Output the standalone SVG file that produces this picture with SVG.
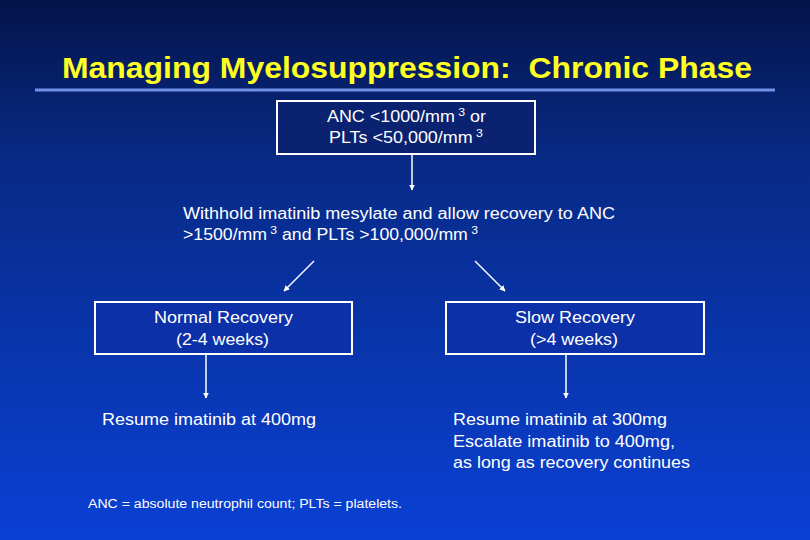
<svg xmlns="http://www.w3.org/2000/svg" width="810" height="540" viewBox="0 0 810 540">
<defs>
<linearGradient id="bg" x1="0" y1="0" x2="0" y2="1">
<stop offset="0" stop-color="#04144a"/>
<stop offset="0.3" stop-color="#082a86"/>
<stop offset="1" stop-color="#0a40d4"/>
</linearGradient>
<marker id="ah" viewBox="0 0 10 10" refX="9" refY="5" markerWidth="4" markerHeight="4" orient="auto">
<path d="M0,0 L10,5 L0,10 z" fill="#ffffff"/>
</marker>
<style>
text{font-family:"Liberation Sans",Arial,sans-serif;fill:#ffffff;font-size:16px}
.box{fill:none;stroke:#ffffff;stroke-width:2}
.c{stroke:#ffffff;stroke-width:1.5;fill:none;marker-end:url(#ah)}
.sup{font-size:11px}
</style>
</defs>
<rect width="810" height="540" fill="url(#bg)"/>
<text x="62" y="78" textLength="690" lengthAdjust="spacingAndGlyphs" xml:space="preserve" style="font-size:29px;font-weight:bold;fill:#ffff22">Managing Myelosuppression:  Chronic Phase</text>
<line x1="35" y1="90" x2="775" y2="90" stroke="#7090e8" stroke-width="3"/>
<g id="n_start">
<rect class="box" x="277" y="101" width="258" height="53" style="fill:#0a2270"/>
<text x="327" y="122" textLength="159" lengthAdjust="spacingAndGlyphs">ANC &lt;1000/mm<tspan class="sup" dy="-6"> 3</tspan><tspan dy="6"> or</tspan></text>
<text x="329" y="143" textLength="154" lengthAdjust="spacingAndGlyphs">PLTs &lt;50,000/mm<tspan class="sup" dy="-6"> 3</tspan></text>
</g>
<g id="n_withhold">
<text x="183" y="219" textLength="432" lengthAdjust="spacingAndGlyphs">Withhold imatinib mesylate and allow recovery to ANC</text>
<text x="183" y="240" textLength="295" lengthAdjust="spacingAndGlyphs">&gt;1500/mm<tspan class="sup" dy="-6"> 3</tspan><tspan dy="6"> and PLTs &gt;100,000/mm</tspan><tspan class="sup" dy="-6"> 3</tspan></text>
</g>
<g id="n_normal">
<rect class="box" x="95" y="302" width="257" height="52" style="fill:#0c30a8"/>
<text x="154" y="323" textLength="139" lengthAdjust="spacingAndGlyphs">Normal Recovery</text>
<text x="176" y="345" textLength="93" lengthAdjust="spacingAndGlyphs">(2-4 weeks)</text>
</g>
<g id="n_slow">
<rect class="box" x="446" y="302" width="258" height="52" style="fill:#0c30a8"/>
<text x="515" y="323" textLength="120" lengthAdjust="spacingAndGlyphs">Slow Recovery</text>
<text x="530" y="345" textLength="88" lengthAdjust="spacingAndGlyphs">(&gt;4 weeks)</text>
</g>
<g id="n_resume400">
<text x="102" y="425" textLength="214" lengthAdjust="spacingAndGlyphs">Resume imatinib at 400mg</text>
</g>
<g id="n_resume300">
<text x="453" y="425" textLength="214" lengthAdjust="spacingAndGlyphs">Resume imatinib at 300mg</text>
<text x="453" y="447" textLength="222" lengthAdjust="spacingAndGlyphs">Escalate imatinib to 400mg,</text>
<text x="453" y="468" textLength="237" lengthAdjust="spacingAndGlyphs">as long as recovery continues</text>
</g>
<g id="connectors">
<line class="c" x1="412" y1="154" x2="412" y2="190"/>
<line class="c" x1="314" y1="261" x2="284" y2="291"/>
<line class="c" x1="475" y1="261" x2="505" y2="291"/>
<line class="c" x1="206" y1="354" x2="206" y2="398"/>
<line class="c" x1="566" y1="354" x2="566" y2="398"/>
</g>
<text x="88" y="508" textLength="314" lengthAdjust="spacingAndGlyphs" style="font-size:12.5px">ANC = absolute neutrophil count; PLTs = platelets.</text>
</svg>
